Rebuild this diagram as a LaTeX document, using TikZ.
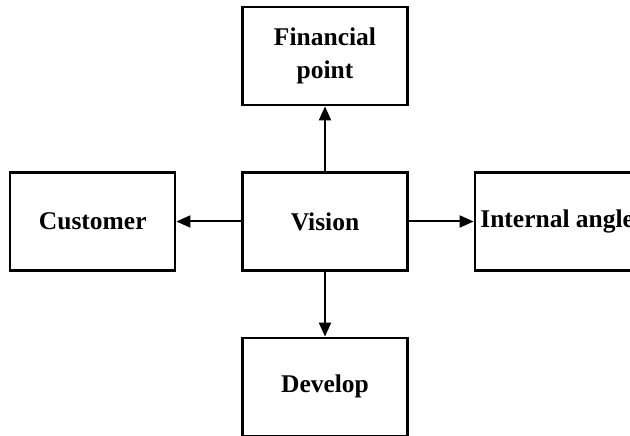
\documentclass[tikz,border=0pt]{standalone}
\usepackage{fontspec}
\setmainfont{Liberation Serif}
\usetikzlibrary{arrows.meta,positioning}
\def\figwidth{630pt}
\def\figheight{436pt}

\begin{document}
\begin{tikzpicture}[x=1pt,y=1pt,font=\bfseries\fontsize{25.5}{33}\selectfont,
 part/.style={draw,line width=2.2pt,minimum width=165pt,minimum height=98pt,align=center,inner sep=0pt},
 arr/.style={-{Triangle[length=14pt,width=12pt]},line width=2pt},
 node distance=65pt]
\clip (0,0) rectangle (\figwidth,\figheight);
\node[part] (vision) at (325,214.5) {Vision};
\node[part,above=of vision] (finance) {Financial\\point};
\node[part,left=of vision] (customer) {Customer};
\node[part,right=of vision] (internal) {Internal angle};
\node[part,below=of vision] (develop) {Develop};
\draw[arr] (vision) -- (finance);
\draw[arr] (vision) -- (customer);
\draw[arr] (vision) -- (internal);
\draw[arr] (vision) -- (develop);
\end{tikzpicture}
\end{document}
